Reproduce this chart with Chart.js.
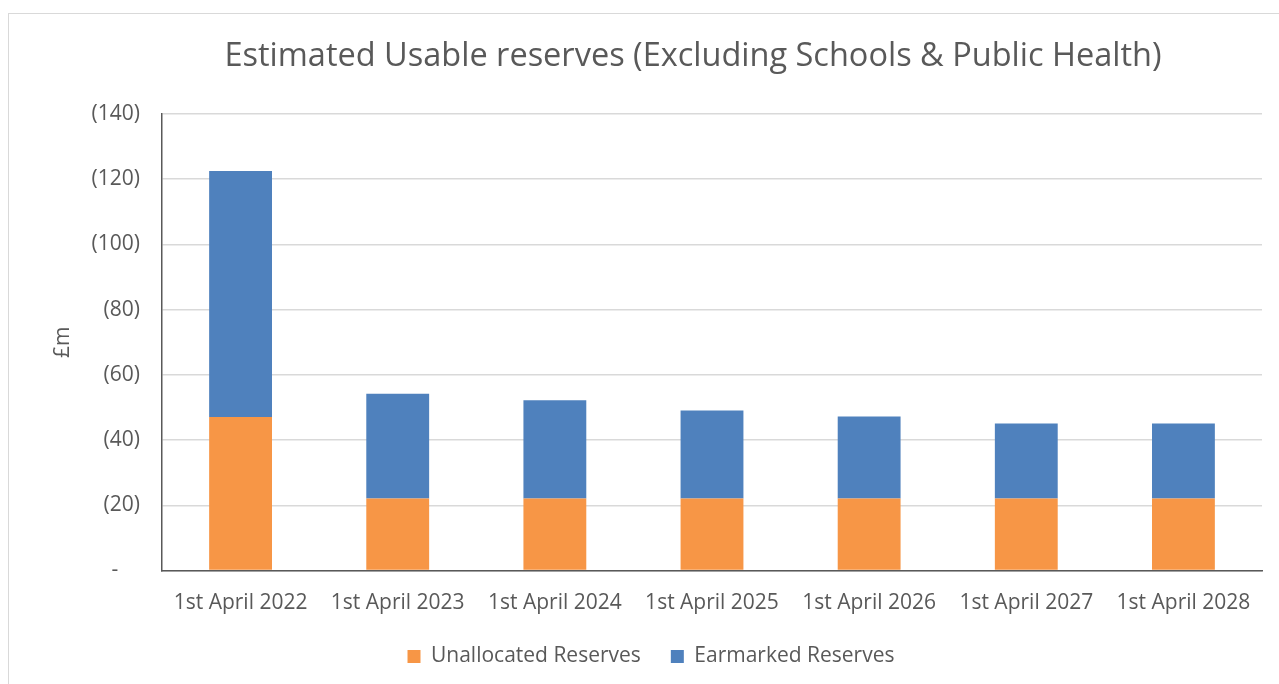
<!DOCTYPE html>
<html>
<head>
<meta charset="utf-8">
<script src="https://cdn.jsdelivr.net/npm/chart.js@4"></script>
<style>
  html, body { margin: 0; padding: 0; background: #fff; }
  #frame { position: absolute; left: 8px; top: 13px; width: 1290px; height: 690px; border: 1px solid #d9d9d9; }
  #wrap { position: absolute; left: 0; top: 0; width: 1279px; height: 684px; }
</style>
</head>
<body>
<div id="frame"></div>
<div id="wrap"><canvas id="chart"></canvas></div>
<script>
const categories = ["1st April 2022", "1st April 2023", "1st April 2024", "1st April 2025", "1st April 2026", "1st April 2027", "1st April 2028"];
const unallocated = [47.1, 22.1, 22.1, 22.1, 22.1, 22.1, 22.1];
const earmarked = [75.4, 32.1, 30.1, 27.0, 25.1, 23.0, 23.0];
const yTicks = [0, 20, 40, 60, 80, 100, 120, 140];
const chartTitle = "Estimated Usable reserves (Excluding Schools & Public Health)";

const grey = "#595959";
const font = "'Open Sans', sans-serif";

// title sits a bit right of the plot centre, like the original sheet chart
const titlePlugin = {
  id: "sheetTitle",
  afterDraw(chart) {
    const ctx = chart.ctx;
    ctx.save();
    ctx.fillStyle = grey;
    ctx.font = "32.5px " + font;
    ctx.textAlign = "center";
    ctx.textBaseline = "middle";
    ctx.fillText(chartTitle, 693, 57);
    ctx.restore();
  }
};

new Chart(document.getElementById("chart"), {
  type: "bar",
  data: {
    labels: categories,
    datasets: [
      { label: "Unallocated Reserves", data: unallocated, backgroundColor: "#F79646", barPercentage: 1, categoryPercentage: 0.4 },
      { label: "Earmarked Reserves", data: earmarked, backgroundColor: "#4F81BD", barPercentage: 1, categoryPercentage: 0.4 }
    ]
  },
  plugins: [titlePlugin],
  options: {
    responsive: true,
    maintainAspectRatio: false,
    animation: false,
    layout: { padding: { left: 40, right: 17, top: 114, bottom: 7 } },
    plugins: {
      legend: {
        position: "bottom",
        labels: {
          color: grey,
          font: { family: font, size: 21 },
          boxWidth: 13,
          boxHeight: 13,
          padding: 30
        }
      },
      tooltip: { enabled: false }
    },
    scales: {
      x: {
        stacked: true,
        afterFit: s => { s.height = 45.5; },
        grid: { display: false, drawTicks: false },
        border: { color: grey, width: 1.5 },
        ticks: { color: grey, font: { family: font, size: 21 }, padding: 20, autoSkip: false, maxRotation: 0 }
      },
      y: {
        stacked: true,
        min: 0,
        max: 140,
        afterBuildTicks: s => { s.ticks = yTicks.map(v => ({ value: v })); },
        afterFit: s => { s.width = 122; },
        grid: { color: "#d9d9d9", lineWidth: 1.5, drawTicks: false },
        border: { color: grey, width: 1.5 },
        title: { display: true, text: "£m", color: grey, font: { family: font, size: 21 }, padding: { top: 10, bottom: 0 } },
        ticks: {
          color: grey,
          font: { family: font, size: 21 },
          padding: 22,
          callback: v => v === 0 ? "-    " : "(" + v + ")"
        }
      }
    }
  }
});
</script>
</body>
</html>
